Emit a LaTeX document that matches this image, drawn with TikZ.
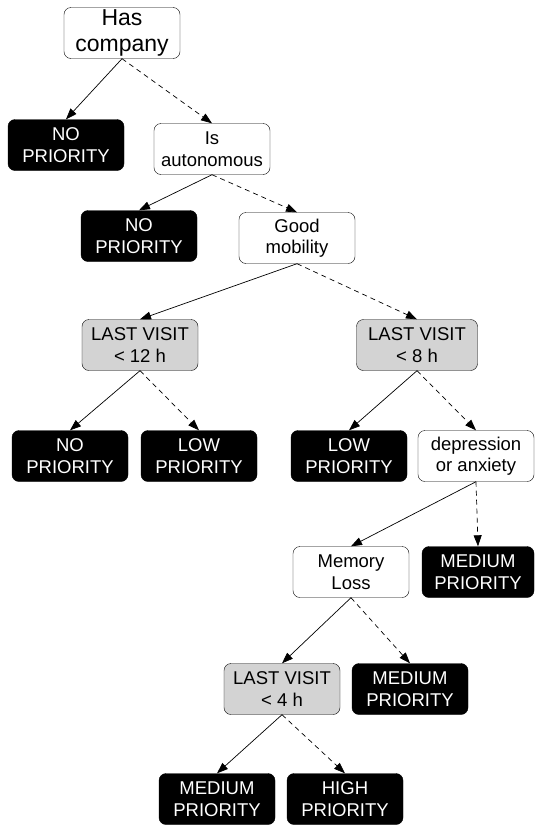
\documentclass[tikz,border=0pt]{standalone}
\usepackage{fontspec}
\setmainfont{Liberation Sans}
\usetikzlibrary{arrows.meta}
\definecolor{visitgray}{HTML}{D3D3D3}
\begin{document}
\begin{tikzpicture}[x=1pt,y=-1pt,
    box/.style={draw, rounded corners=7pt, minimum width=116pt, minimum height=51pt,
      align=center, inner sep=2pt, font=\fontsize{18.5}{21.5}\selectfont},
    test/.style={box, fill=white},
    visit/.style={box, fill=visitgray},
    leaf/.style={box, fill=black, text=white},
    yes/.style={-{Triangle[length=11pt,width=8pt]}, line width=0.7pt},
    no/.style={yes, dash pattern=on 5pt off 4pt},
  ]
\useasboundingbox (0,0) rectangle (535,825);

\node[test, font=\fontsize{23}{26}\selectfont] (company) at (122,33) {Has\\company};
\node[leaf] (nop1) at (66,145) {NO\\PRIORITY};
\node[test] (auto) at (212,149) {Is\\autonomous};
\node[leaf] (nop2) at (139,236) {NO\\PRIORITY};
\node[test] (mob) at (297,238) {Good\\mobility};
\node[visit] (v12) at (140,345) {LAST VISIT\\< 12 h};
\node[visit, minimum width=121pt] (v8) at (417,345) {LAST VISIT\\< 8 h};
\node[leaf] (nop3) at (70,456) {NO\\PRIORITY};
\node[leaf] (low1) at (199,456) {LOW\\PRIORITY};
\node[leaf] (low2) at (349,456) {LOW\\PRIORITY};
\node[test] (dep) at (476,456) {depression\\or anxiety};
\node[test] (mem) at (351,572) {Memory\\Loss};
\node[leaf, minimum width=112pt] (med1) at (478,572) {MEDIUM\\PRIORITY};
\node[visit] (v4) at (282,689) {LAST VISIT\\< 4 h};
\node[leaf] (med2) at (410,689) {MEDIUM\\PRIORITY};
\node[leaf] (med3) at (217,799) {MEDIUM\\PRIORITY};
\node[leaf] (high) at (345,799) {HIGH\\PRIORITY};

% solid = yes, dashed = no
\draw[yes] (company.south) -- (nop1.north);
\draw[no] (company.south) -- (auto.north);
\draw[yes] (auto.south) -- (nop2.north);
\draw[no] (auto.south) -- (mob.north);
\draw[yes] (mob.south) -- (v12.north);
\draw[no] (mob.south) -- (v8.north);
\draw[yes] (v12.south) -- (nop3.north);
\draw[no] (v12.south) -- (low1.north);
\draw[yes] (v8.south) -- (low2.north);
\draw[no] (v8.south) -- (dep.north);
\draw[yes] (dep.south) -- (mem.north);
\draw[no] (dep.south) -- (med1.north);
\draw[yes] (mem.south) -- (v4.north);
\draw[no] (mem.south) -- (med2.north);
\draw[yes] (v4.south) -- (med3.north);
\draw[no] (v4.south) -- (high.north);

\end{tikzpicture}
\end{document}
